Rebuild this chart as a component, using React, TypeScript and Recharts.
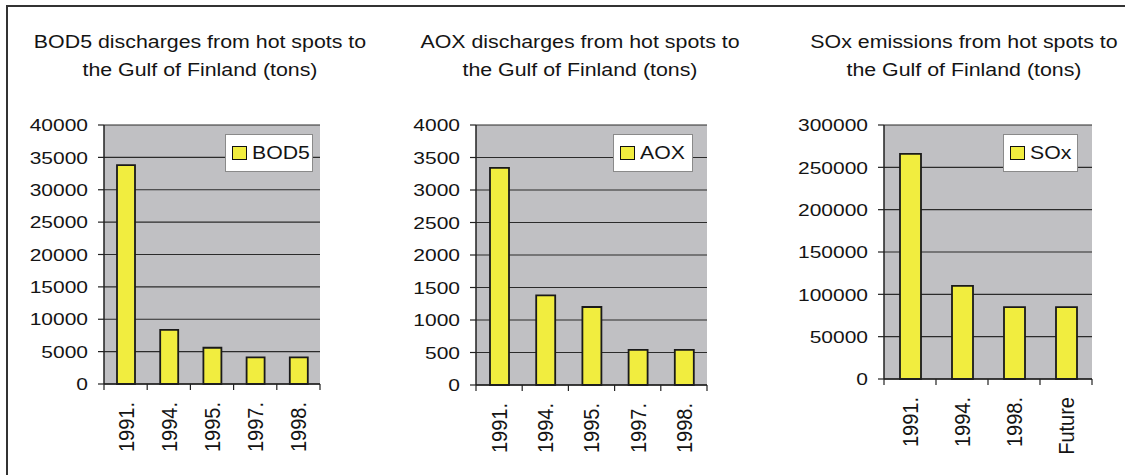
import React from "react";
import { BarChart, Bar, XAxis, YAxis, CartesianGrid, Legend } from "recharts";

const bodCategories = ["1991.", "1994.", "1995.", "1997.", "1998."];
const bodValues = [33800, 8350, 5600, 4100, 4100];
const bodTicks = [0, 5000, 10000, 15000, 20000, 25000, 30000, 35000, 40000];

const aoxCategories = ["1991.", "1994.", "1995.", "1997.", "1998."];
const aoxValues = [3340, 1380, 1200, 540, 540];
const aoxTicks = [0, 500, 1000, 1500, 2000, 2500, 3000, 3500, 4000];

const soxCategories = ["1991.", "1994.", "1998.", "Future"];
const soxValues = [266000, 110000, 85000, 85000];
const soxTicks = [0, 50000, 100000, 150000, 200000, 250000, 300000];

const FONT = '"Liberation Sans", Arial, sans-serif';
const TEXT = "#141414";
const STRETCH = 1.22;
const PLOT_TOP = 125;

function YTick(props: any) {
  const { x, y, payload } = props;
  return (
    <text
      transform={`translate(${x},${y}) scale(${STRETCH},1)`}
      textAnchor="end"
      dy="0.36em"
      fontSize={17.2}
      fontFamily={FONT}
      fill={TEXT}
    >
      {payload.value}
    </text>
  );
}

function makeXTick(half: number, count: number, axisY: number) {
  return (props: any) => {
    const { x, payload, index } = props;
    return (
      <g>
        <line x1={x - half} y1={axisY} x2={x - half} y2={axisY + 6} stroke="#222" strokeWidth={1.2} />
        {index === count - 1 && (
          <line x1={x + half} y1={axisY} x2={x + half} y2={axisY + 6} stroke="#222" strokeWidth={1.2} />
        )}
        <text
          transform={`translate(${x},${axisY + 18}) rotate(-90) scale(1,1.1)`}
          textAnchor="end"
          dy="0.36em"
          fontSize={20}
          fontFamily={FONT}
          fill={TEXT}
        >
          {payload.value}
        </text>
      </g>
    );
  };
}

function LegendBox({ name, width }: { name: string; width: number }) {
  return (
    <div
      style={{
        boxSizing: "border-box",
        width,
        height: 38,
        background: "#fff",
        border: "1px solid #8a8a8a",
        display: "flex",
        alignItems: "center",
        paddingLeft: 6,
        fontFamily: FONT,
      }}
    >
      <div
        style={{
          boxSizing: "border-box",
          width: 15,
          height: 14,
          background: "#f1ed3f",
          border: "1.5px solid #111",
        }}
      />
      <span
        style={{
          display: "inline-block",
          marginLeft: 5,
          fontSize: 18,
          color: TEXT,
          transform: `scaleX(1.18)`,
          transformOrigin: "left center",
          whiteSpace: "nowrap",
        }}
      >
        {name}
      </span>
    </div>
  );
}

type ChartProps = {
  title: string[];
  titleCenter: number;
  name: string;
  categories: string[];
  values: number[];
  ticks: number[];
  plotLeft: number;
  plotWidth: number;
  plotHeight: number;
  yAxisWidth: number;
  barSize: number;
  legendLeft: number;
  legendWidth: number;
};

function HotSpotChart(p: ChartProps) {
  const data = p.categories.map((c, i) => ({ cat: c, value: p.values[i] }));
  const chartLeft = p.plotLeft - p.yAxisWidth;
  const width = p.yAxisWidth + p.plotWidth + 8;
  const height = PLOT_TOP + p.plotHeight + 80;
  const half = p.plotWidth / p.categories.length / 2;
  const axisY = PLOT_TOP + p.plotHeight;
  const max = p.ticks[p.ticks.length - 1];

  return (
    <>
      <div
        style={{
          position: "absolute",
          left: p.titleCenter,
          top: 28,
          width: 400,
          textAlign: "center",
          fontFamily: FONT,
          fontSize: 17.5,
          lineHeight: "28px",
          color: TEXT,
          whiteSpace: "nowrap",
          transform: `translateX(-50%) scaleX(${STRETCH})`,
        }}
      >
        {p.title[0]}
        <br />
        {p.title[1]}
      </div>
      <div style={{ position: "absolute", left: chartLeft, top: 0 }}>
        <BarChart
          width={width}
          height={height}
          data={data}
          margin={{ top: PLOT_TOP, right: 8, left: 0, bottom: 0 }}
          barSize={p.barSize}
        >
          <CartesianGrid vertical={false} fill="#c0c0c3" stroke="#2b2b2b" strokeWidth={1.2} />
          <XAxis
            dataKey="cat"
            interval={0}
            height={80}
            tickLine={false}
            axisLine={{ stroke: "#222", strokeWidth: 1.5 }}
            tick={makeXTick(half, p.categories.length, axisY)}
          />
          <XAxis xAxisId="top" orientation="top" height={0} tick={false} tickLine={false} axisLine={{ stroke: "#8c8c8c", strokeWidth: 1.5 }} />
          <YAxis
            domain={[0, max]}
            ticks={p.ticks}
            width={p.yAxisWidth}
            tickSize={6}
            tickMargin={10}
            tickLine={{ stroke: "#222", strokeWidth: 1.2 }}
            axisLine={{ stroke: "#222", strokeWidth: 1.5 }}
            tick={YTick}
          />
          <YAxis yAxisId="right" orientation="right" width={0} tick={false} tickLine={false} axisLine={{ stroke: "#8c8c8c", strokeWidth: 1.5 }} />
          <Legend
            verticalAlign="middle"
            layout="horizontal"
            wrapperStyle={{ position: "absolute", left: p.legendLeft - chartLeft, top: 134, width: "auto" }}
            content={() => <LegendBox name={p.name} width={p.legendWidth} />}
          />
          <Bar
            dataKey="value"
            name={p.name}
            fill="#f1ed3f"
            stroke="#1a1a1a"
            strokeWidth={1.8}
            isAnimationActive={false}
          />
        </BarChart>
      </div>
    </>
  );
}

export default function App() {
  return (
    <div
      style={{
        position: "absolute",
        left: 0,
        top: 0,
        width: 1125,
        height: 475,
        background: "#fff",
        overflow: "hidden",
      }}
    >
      <div
        style={{
          position: "absolute",
          left: 6,
          top: 5,
          width: 1200,
          height: 600,
          borderTop: "2px solid #333",
          borderLeft: "2px solid #333",
        }}
      />
      <HotSpotChart
        title={["BOD5 discharges from hot spots to", "the Gulf of Finland (tons)"]}
        titleCenter={200}
        name="BOD5"
        categories={bodCategories}
        values={bodValues}
        ticks={bodTicks}
        plotLeft={104}
        plotWidth={216}
        plotHeight={259}
        yAxisWidth={80}
        barSize={18}
        legendLeft={225}
        legendWidth={88}
      />
      <HotSpotChart
        title={["AOX discharges from hot spots to", "the Gulf of Finland (tons)"]}
        titleCenter={580}
        name="AOX"
        categories={aoxCategories}
        values={aoxValues}
        ticks={aoxTicks}
        plotLeft={476}
        plotWidth={231}
        plotHeight={260}
        yAxisWidth={80}
        barSize={19}
        legendLeft={613}
        legendWidth={80}
      />
      <HotSpotChart
        title={["SOx emissions from hot spots to", "the Gulf of Finland (tons)"]}
        titleCenter={964}
        name="SOx"
        categories={soxCategories}
        values={soxValues}
        ticks={soxTicks}
        plotLeft={884}
        plotWidth={208}
        plotHeight={254}
        yAxisWidth={90}
        barSize={21}
        legendLeft={1003}
        legendWidth={75}
      />
    </div>
  );
}
